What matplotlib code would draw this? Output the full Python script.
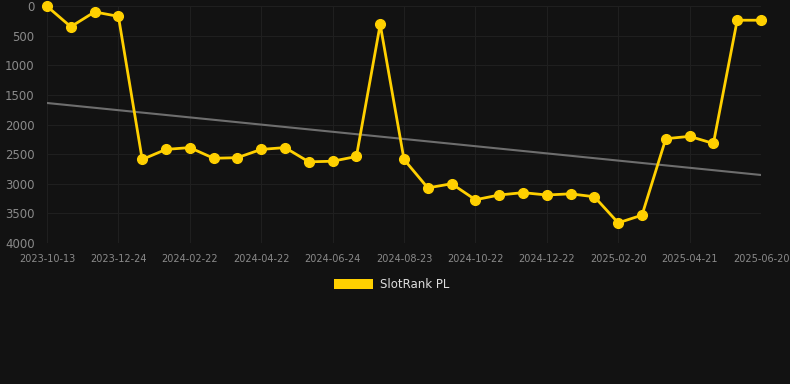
import numpy as np
import matplotlib
matplotlib.use("Agg")
import matplotlib.pyplot as plt
from matplotlib.patches import Rectangle

tick_labels = ["2023-10-13", "2023-12-24", "2024-02-22", "2024-04-22", "2024-06-24",
               "2024-08-23", "2024-10-22", "2024-12-22", "2025-02-20", "2025-04-21",
               "2025-06-20"]
values = [5, 350, 100, 175, 2590, 2420, 2390, 2570, 2560, 2420, 2390, 2630, 2620,
          2540, 310, 2590, 3070, 3000, 3270, 3190, 3150, 3190, 3170, 3220, 3660,
          3530, 2240, 2200, 2320, 240, 240]
trend_ends = [1637, 2852]
series_name = "SlotRank PL"

bg = "#121212"
gold = "#FFD000"
fig = plt.figure(figsize=(7.9, 3.84), dpi=100, facecolor=bg)
ax = fig.add_axes([47/790, 1-243/384, (761-47)/790, (243-6)/384], facecolor=bg)

x = np.arange(len(values))
ax.plot([x[0], x[-1]], trend_ends, color="#6e6e6e", lw=1.5, zorder=2)
ax.plot(x, values, color=gold, lw=2.0, marker="o", ms=7, zorder=3, clip_on=False)

ax.set_xlim(x[0], x[-1])
ax.set_ylim(4000, 0)
ax.set_yticks(np.arange(0, 4001, 500))
ax.set_xticks(x[::3])
ax.set_xticklabels(tick_labels)
for s in ax.spines.values():
    s.set_visible(False)
ax.grid(True, color="#1f1f1f", lw=0.8, zorder=0)
ax.tick_params(axis="y", colors="#8a8a8a", labelsize=8.5, length=0, pad=9)
ax.tick_params(axis="x", colors="#8a8a8a", labelsize=7, length=0, pad=8)

fig.patches.append(Rectangle((334/790, 1-289/384), 39/790, 10/384, transform=fig.transFigure,
                             facecolor=gold, edgecolor="none"))
fig.text(380/790, 1-284.5/384, series_name, color="#dddddd", fontsize=8.5, va="center", ha="left")

fig.savefig("out.png", dpi=100, facecolor=bg)
